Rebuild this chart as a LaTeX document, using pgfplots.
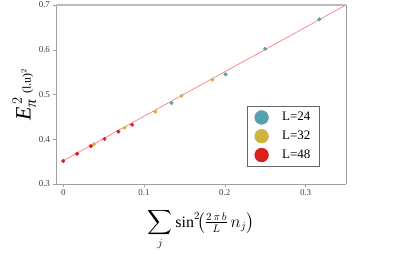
\documentclass[border=0pt]{standalone}
\usepackage{amsmath}
\usepackage{pgfplots}
\pgfplotsset{compat=1.18}
\usepackage{fontspec}
\setmainfont{Liberation Serif}
\definecolor{c24}{RGB}{88,160,176}
\definecolor{c32}{RGB}{206,180,62}
\definecolor{c48}{RGB}{220,32,32}
\definecolor{fitc}{RGB}{255,110,110}
\definecolor{frame}{RGB}{160,160,160}
\begin{document}
\begin{tikzpicture}
\begin{axis}[
  name=ax,
  scale only axis,
  width=290bp, height=179bp,
  xmin=-0.009, xmax=0.35, ymin=0.3, ymax=0.7,
  xtick={0,0.1,0.2,0.3},
  ytick={0.3,0.4,0.5,0.6,0.7},
  yticklabel style={/pgf/number format/fixed,/pgf/number format/precision=1},
  xticklabel style={/pgf/number format/fixed,/pgf/number format/precision=1},
  /pgf/number format/assume math mode=true,
  tick label style={font=\fontsize{9}{10}\selectfont, text=black!75},
  tick align=outside,
  major tick length=2.5bp,
  tick style={frame, line width=0.5pt},
  axis line style={frame, line width=0.7pt},
  axis x line*=bottom, axis y line*=left,
  xlabel={\fontsize{16}{18}\selectfont $\displaystyle\sum_j \sin^2\!\bigl(\tfrac{2\,\pi\, b}{L}\, n_j\bigr)$},
  ylabel={\fontsize{22}{24}\selectfont $\textit{E}^{\,2}_{\textit{π}}$\,\fontsize{12}{13}\selectfont(l.u)$^{2}$},
  xlabel style={yshift=-6bp},
  ylabel style={yshift=-4bp},
  legend style={at={(0.659,0.436)}, anchor=north west, draw=black!60, line width=0.7pt,
    font=\fontsize{13}{15}\selectfont, row sep=4.5bp, inner xsep=7bp, inner ysep=4bp},
  legend cell align=left,
  clip=false,
]
\addplot[fitc, line width=0.6pt, forget plot] coordinates {(0,0.352) (0.35,0.700)};
\draw[frame!70, line width=2.5pt] (rel axis cs:0,1) -- (rel axis cs:1,1);
\draw[frame, line width=0.6pt] (rel axis cs:1,0) -- (rel axis cs:1,1);
\addplot[only marks, mark=*, mark size=1.8bp, color=c24,
  legend image code/.code={\fill[c24] (5.5bp,0) circle (6.8bp); \path[draw=none,fill=none] (0,0) rectangle (24bp,0.1bp);}] coordinates {
  (0.134,0.481) (0.201,0.545) (0.250,0.602) (0.317,0.668)};
\addlegendentry{L=24}
\addplot[only marks, mark=*, mark size=1.8bp, color=c32,
  legend image code/.code={\fill[c32] (5.5bp,0) circle (6.8bp); \path[draw=none,fill=none] (0,0) rectangle (24bp,0.1bp);}] coordinates {
  (0.038,0.389) (0.076,0.4257) (0.114,0.4618) (0.1464,0.497) (0.1845,0.533)};
\addlegendentry{L=32}
\addplot[only marks, mark=*, mark size=1.8bp, color=c48,
  legend image code/.code={\fill[c48] (5.5bp,0) circle (6.8bp); \path[draw=none,fill=none] (0,0) rectangle (24bp,0.1bp);}] coordinates {
  (0,0.3515) (0.017,0.3676) (0.0341,0.3846) (0.0511,0.4007) (0.0682,0.417) (0.0852,0.4324)};
\addlegendentry{L=48}
\end{axis}
\pgfresetboundingbox
\path[use as bounding box] ([xshift=-56bp,yshift=-70bp]ax.south west) rectangle ([xshift=61bp,yshift=5bp]ax.north east);
\end{tikzpicture}
\end{document}
